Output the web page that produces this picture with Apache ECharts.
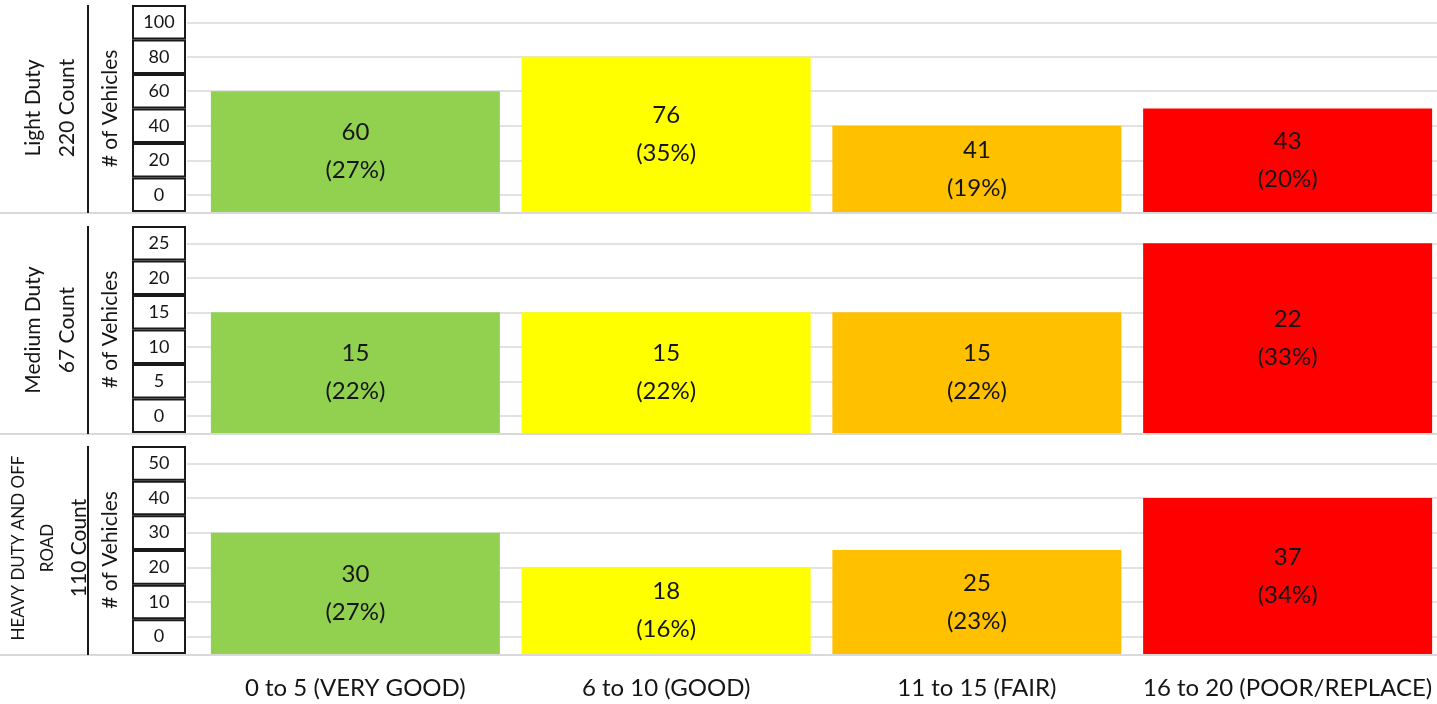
<!DOCTYPE html>
<html>
<head>
<meta charset="utf-8">
<script src="https://cdn.jsdelivr.net/npm/echarts@6/dist/echarts.min.js"></script>
<style>
  html, body { margin: 0; padding: 0; background: #fff; }
  #chart { width: 1437px; height: 704px; }
</style>
</head>
<body>
<div id="chart"></div>
<script>
const categories = ['0 to 5 (VERY GOOD)', '6 to 10 (GOOD)', '11 to 15 (FAIR)', '16 to 20 (POOR/REPLACE)']
const barColors = ['#92D050', '#FFFF00', '#FFC000', '#FF0000']

// bar heights as drawn, and the counts / shares printed on them
const lightHeights = [60, 80, 40, 50]
const lightCounts = [60, 76, 41, 43]
const lightShares = [27, 35, 19, 20]
const lightTicks = [0, 20, 40, 60, 80, 100]

const mediumHeights = [15, 15, 15, 25]
const mediumCounts = [15, 15, 15, 22]
const mediumShares = [22, 22, 22, 33]
const mediumTicks = [0, 5, 10, 15, 20, 25]

const heavyHeights = [30, 20, 25, 40]
const heavyCounts = [30, 18, 25, 37]
const heavyShares = [27, 16, 23, 34]
const heavyTicks = [0, 10, 20, 30, 40, 50]

const font = 'Lato, "Open Sans", sans-serif'
const textColor = '#151515'
const gridColor = '#d9d9d9'

const panels = [
  { top: 5, height: 207, heights: lightHeights, counts: lightCounts, shares: lightShares, ticks: lightTicks },
  { top: 226, height: 207, heights: mediumHeights, counts: mediumCounts, shares: mediumShares, ticks: mediumTicks },
  { top: 446, height: 208, heights: heavyHeights, counts: heavyCounts, shares: heavyShares, ticks: heavyTicks }
]

const chart = echarts.init(document.getElementById('chart'))

const grid = panels.map(p => ({
  left: 200,
  right: -6,
  top: p.top,
  height: p.height,
  containLabel: false,
  outerBoundsMode: 'none'
}))

const xAxis = panels.map((p, i) => ({
  type: 'category',
  gridIndex: i,
  data: categories,
  axisLine: { show: false },
  axisTick: { show: false },
  axisLabel: {
    show: i === panels.length - 1,
    interval: 0,
    hideOverlap: false,
    color: textColor,
    fontFamily: font,
    fontSize: 24,
    margin: 22
  }
}))

const yAxis = panels.map((p, i) => {
  const step = p.ticks[1] - p.ticks[0]
  const min = p.ticks[0] - step / 2
  const box = p.height / 6
  return {
    type: 'value',
    gridIndex: i,
    min: min,
    max: p.ticks[p.ticks.length - 1] + step / 2,
    startValue: min,
    name: '# of Vehicles',
    nameLocation: 'middle',
    nameGap: 76,
    nameTextStyle: { color: textColor, fontFamily: font, fontSize: 21 },
    axisLine: { show: false },
    axisTick: {
      show: true,
      customValues: p.ticks,
      length: 13,
      lineStyle: { color: gridColor, width: 1.5 }
    },
    splitLine: { show: true, lineStyle: { color: gridColor, width: 1.5 } },
    axisLabel: {
      customValues: p.ticks,
      showMinLabel: true,
      showMaxLabel: true,
      hideOverlap: false,
      margin: 15,
      formatter: v => '{b|' + v + '}',
      rich: {
        b: {
          width: 52,
          height: box - 2,
          lineHeight: box - 2,
          align: 'center',
          borderColor: '#1a1a1a',
          borderWidth: 2,
          color: textColor,
          fontFamily: font,
          fontSize: 18
        }
      }
    }
  }
})

const series = panels.map((p, i) => ({
  type: 'bar',
  xAxisIndex: i,
  yAxisIndex: i,
  barCategoryGap: '7%',
  data: p.heights.map((v, j) => ({ value: v, itemStyle: { color: barColors[j] } })),
  label: {
    show: true,
    position: 'inside',
    color: textColor,
    fontFamily: font,
    fontSize: 24,
    lineHeight: 38,
    formatter: params => p.counts[params.dataIndex] + '\n(' + p.shares[params.dataIndex] + '%)'
  }
}))

const sideText = [
  { y: 108, text: '{n|Light Duty}\n{n|220 Count}' },
  { y: 330, text: '{n|Medium Duty}\n{n|67 Count}' },
  { y: 548, text: '{s|HEAVY DUTY AND OFF}\n{s|ROAD}\n{n|110 Count}' }
]

const graphic = []
panels.forEach(p => {
  graphic.push({
    type: 'line',
    shape: { x1: 0, y1: p.top + p.height + 1, x2: 1437, y2: p.top + p.height + 1 },
    style: { stroke: gridColor, lineWidth: 2 }
  })
  graphic.push({
    type: 'line',
    shape: { x1: 88, y1: p.top, x2: 88, y2: p.top + p.height + 1 },
    style: { stroke: '#1a1a1a', lineWidth: 2 }
  })
})
sideText.forEach(t => {
  graphic.push({
    type: 'text',
    x: 50,
    y: t.y,
    rotation: Math.PI / 2,
    style: {
      text: t.text,
      align: 'center',
      verticalAlign: 'middle',
      fill: textColor,
      rich: {
        n: { fontFamily: font, fontSize: 21, lineHeight: 34, color: textColor },
        s: { fontFamily: font, fontSize: 17, lineHeight: 29, color: textColor }
      }
    }
  })
})

chart.setOption({
  backgroundColor: '#fff',
  animation: false,
  grid: grid,
  xAxis: xAxis,
  yAxis: yAxis,
  series: series,
  graphic: graphic
})
</script>
</body>
</html>
